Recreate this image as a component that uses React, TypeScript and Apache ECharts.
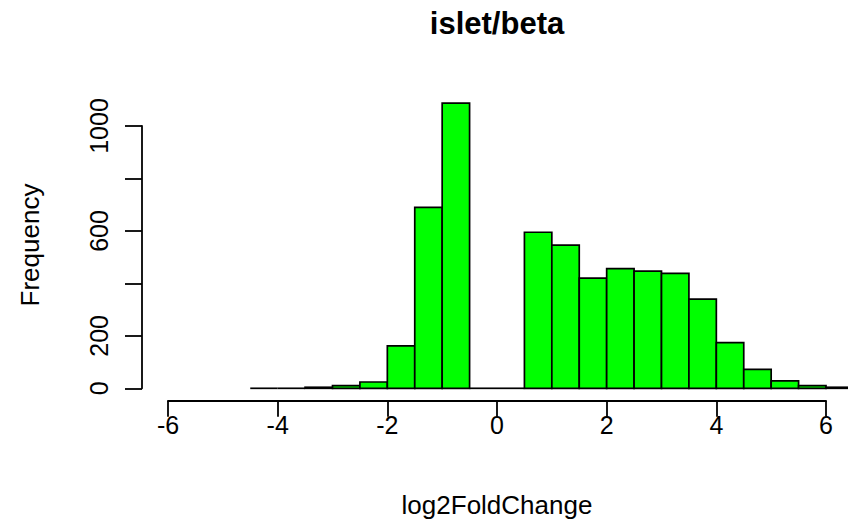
import React, { useEffect, useRef } from "react";
import * as echarts from "echarts";

// Histogram bins (left edges), bin width 0.5
const binStarts = [-4.5, -4, -3.5, -3, -2.5, -2, -1.5, -1, -0.5, 0, 0.5, 1, 1.5, 2, 2.5, 3, 3.5, 4, 4.5, 5, 5.5, 6];
const binWidth = 0.5;
const counts = [1, 1, 4, 10, 24, 162, 690, 1087, 0, 0, 595, 546, 420, 456, 447, 438, 340, 174, 72, 28, 10, 4];

const xTicks = [-6, -4, -2, 0, 2, 4, 6];
const yTicks = [0, 200, 400, 600, 800, 1000];
const yTickLabels = ["0", "200", "", "600", "", "1000"];

const titleText = "islet/beta";
const xLabel = "log2FoldChange";
const yLabel = "Frequency";

const FONT = "'Liberation Sans', Arial, Helvetica, sans-serif";

export default function App() {
  const ref = useRef<HTMLDivElement>(null);
  useEffect(() => {
    if (!ref.current) return;
    const chart = echarts.init(ref.current, null, { renderer: "svg" });
    const data = binStarts.map((s, i) => [s, s + binWidth, counts[i]]);
    const axisLineStyle = { color: "#000", width: 1.8 };
    chart.setOption({
      animation: false,
      backgroundColor: "#fff",
      textStyle: { fontFamily: FONT },
      grid: [
        { left: 168, width: 658, top: 126, height: 262.3 },
        { left: 168, width: 658, top: 380, height: 20.7 },
        { left: 142, width: 10, top: 126, height: 262.3 },
      ],
      xAxis: [
        { gridIndex: 0, type: "value", min: xTicks[0], max: xTicks[xTicks.length - 1], show: false },
        {
          gridIndex: 1,
          type: "value",
          min: xTicks[0],
          max: xTicks[xTicks.length - 1],
          interval: 2,
          axisLine: { show: true, lineStyle: axisLineStyle },
          axisTick: { show: true, length: 16, lineStyle: axisLineStyle },
          axisLabel: {
            fontSize: 25,
            color: "#000",
            fontFamily: FONT,
            margin: 12,
            formatter: (v: number) => String(v),
          },
          splitLine: { show: false },
        },
        { gridIndex: 2, type: "value", show: false },
      ],
      yAxis: [
        { gridIndex: 0, type: "value", min: yTicks[0], max: yTicks[yTicks.length - 1], show: false },
        { gridIndex: 1, type: "value", show: false },
        {
          gridIndex: 2,
          type: "value",
          position: "left",
          min: yTicks[0],
          max: yTicks[yTicks.length - 1],
          interval: 200,
          axisLine: { show: true, lineStyle: axisLineStyle },
          axisTick: { show: true, length: 17, lineStyle: axisLineStyle },
          axisLabel: {
            rotate: 90,
            fontSize: 25,
            color: "#000",
            fontFamily: FONT,
            margin: 31,
            formatter: (v: number) => yTickLabels[yTicks.indexOf(v)] ?? "",
          },
          splitLine: { show: false },
        },
      ],
      series: [
        {
          type: "custom",
          xAxisIndex: 0,
          yAxisIndex: 0,
          clip: false,
          data,
          renderItem: (params: any, api: any) => {
            const x0 = api.value(0);
            const x1 = api.value(1);
            const c = api.value(2);
            const p0 = api.coord([x0, c]);
            const p1 = api.coord([x1, 0]);
            const h = p1[1] - p0[1];
            if (h < 0.8) {
              return {
                type: "line",
                shape: { x1: p0[0], y1: p1[1], x2: p1[0], y2: p1[1] },
                style: { stroke: "#000", lineWidth: 1.7 },
              };
            }
            return {
              type: "rect",
              shape: { x: p0[0], y: p0[1], width: p1[0] - p0[0], height: h },
              style: { fill: "#00FF00", stroke: "#000", lineWidth: 1.7 },
            };
          },
        },
      ],
      graphic: [
        {
          type: "text",
          x: 497,
          y: 23,
          style: {
            text: titleText,
            fontFamily: FONT,
            fontWeight: "bold",
            fontSize: 31,
            fill: "#000",
            align: "center",
            verticalAlign: "middle",
          },
        },
        {
          type: "text",
          x: 497,
          y: 505,
          style: {
            text: xLabel,
            fontFamily: FONT,
            fontSize: 26,
            fill: "#000",
            align: "center",
            verticalAlign: "middle",
          },
        },
        {
          type: "text",
          x: 30,
          y: 245,
          rotation: Math.PI / 2,
          style: {
            text: yLabel,
            fontFamily: FONT,
            fontSize: 26,
            fill: "#000",
            align: "center",
            verticalAlign: "middle",
          },
        },
      ],
    });
    return () => chart.dispose();
  }, []);
  return (
    <div
      ref={ref}
      style={{ position: "fixed", left: 0, top: 0, width: 848, height: 527 }}
    />
  );
}
